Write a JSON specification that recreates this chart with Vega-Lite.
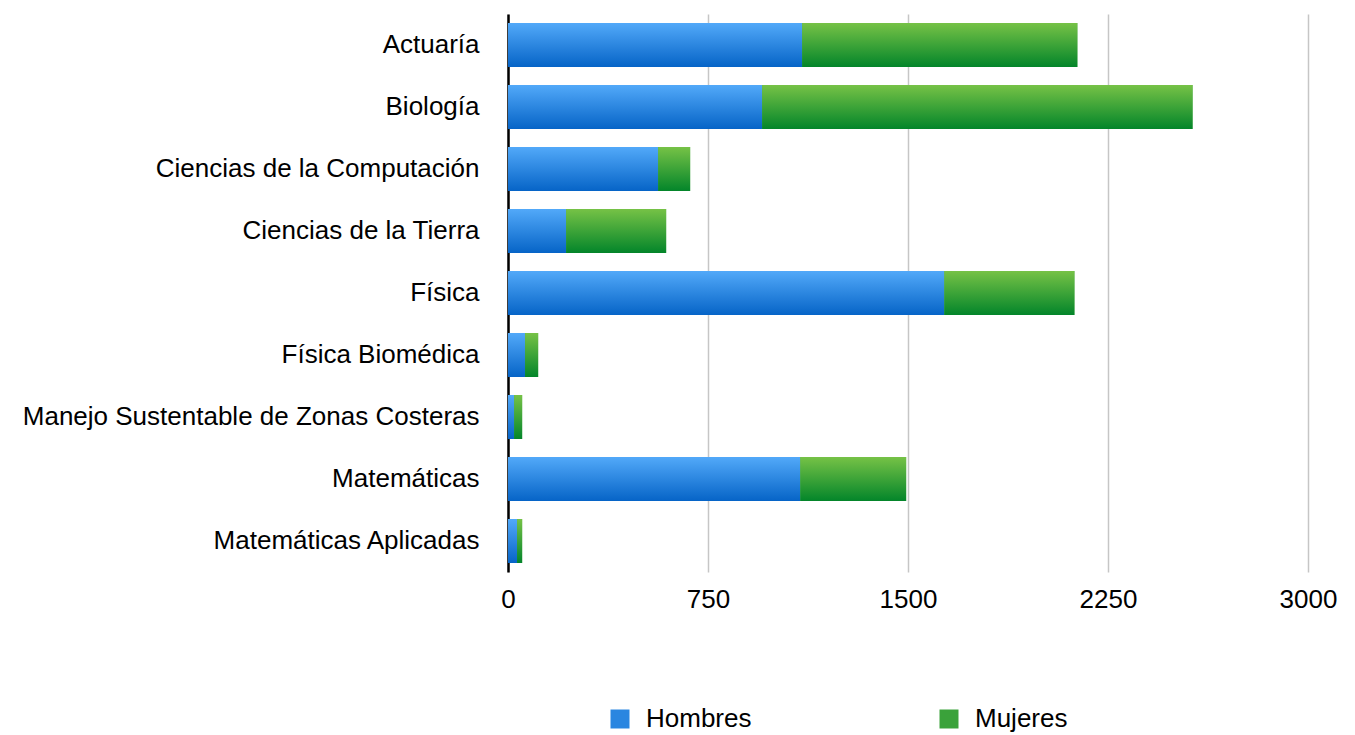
{
  "$schema": "https://vega.github.io/schema/vega-lite/v6.json",
  "width": 800,
  "height": 558,
  "padding": {"left": 22, "top": 14, "right": 10, "bottom": 5},
  "background": "white",
  "config": {
    "view": {"stroke": null},
    "font": "Liberation Sans",
    "axis": {"labelFont": "Liberation Sans", "labelFontSize": 26, "labelColor": "#000000", "title": null},
    "legend": {"labelFont": "Liberation Sans", "labelFontSize": 26, "labelColor": "#000000"}
  },
  "data": {
    "values": [
      {"carrera": "Actuaría", "sexo": "Hombres", "n": 1103},
      {"carrera": "Actuaría", "sexo": "Mujeres", "n": 1032},
      {"carrera": "Biología", "sexo": "Hombres", "n": 953},
      {"carrera": "Biología", "sexo": "Mujeres", "n": 1614},
      {"carrera": "Ciencias de la Computación", "sexo": "Hombres", "n": 563},
      {"carrera": "Ciencias de la Computación", "sexo": "Mujeres", "n": 120},
      {"carrera": "Ciencias de la Tierra", "sexo": "Hombres", "n": 218},
      {"carrera": "Ciencias de la Tierra", "sexo": "Mujeres", "n": 375},
      {"carrera": "Física", "sexo": "Hombres", "n": 1636},
      {"carrera": "Física", "sexo": "Mujeres", "n": 488},
      {"carrera": "Física Biomédica", "sexo": "Hombres", "n": 64},
      {"carrera": "Física Biomédica", "sexo": "Mujeres", "n": 49},
      {"carrera": "Manejo Sustentable de Zonas Costeras", "sexo": "Hombres", "n": 23},
      {"carrera": "Manejo Sustentable de Zonas Costeras", "sexo": "Mujeres", "n": 30},
      {"carrera": "Matemáticas", "sexo": "Hombres", "n": 1096},
      {"carrera": "Matemáticas", "sexo": "Mujeres", "n": 397},
      {"carrera": "Matemáticas Aplicadas", "sexo": "Hombres", "n": 34},
      {"carrera": "Matemáticas Aplicadas", "sexo": "Mujeres", "n": 19}
    ]
  },
  "transform": [
    {"stack": "n", "groupby": ["carrera"], "sort": [{"field": "sexo", "order": "ascending"}], "as": ["v0", "v1"]}
  ],
  "encoding": {
    "y": {
      "field": "carrera",
      "type": "nominal",
      "sort": null,
      "scale": {"paddingInner": 0.29, "paddingOuter": 0.145},
      "axis": {"ticks": false, "labelPadding": 29, "domainColor": "#000000", "domainWidth": 2.5, "grid": false, "labelLimit": 0}
    },
    "x": {
      "field": "v0",
      "type": "quantitative",
      "scale": {"domain": [0, 3000], "nice": false},
      "axis": {"values": [0, 750, 1500, 2250, 3000], "ticks": false, "domain": false, "grid": true, "gridColor": "#c6c6c6", "gridWidth": 1.5, "labelPadding": 14, "labelFlush": false, "format": "d"}
    },
    "x2": {"field": "v1"}
  },
  "layer": [
    {
      "mark": {"type": "bar"},
      "encoding": {
        "color": {
          "field": "sexo",
          "type": "nominal",
          "scale": {"domain": ["Hombres", "Mujeres"], "range": ["#2a86e0", "#3aa23a"]},
          "legend": {
            "orient": "none",
            "legendX": 99,
            "legendY": 692,
            "direction": "horizontal",
            "title": null,
            "symbolType": "square",
            "symbolSize": 361,
            "symbolStrokeWidth": 0,
            "labelOffset": 13,
            "columnPadding": 184
          }
        }
      }
    },
    {
      "transform": [{"filter": "datum.sexo === 'Hombres'"}],
      "mark": {
        "type": "bar",
        "color": {"gradient": "linear", "x1": 0, "y1": 0, "x2": 0, "y2": 1, "stops": [{"offset": 0, "color": "#52a9f9"}, {"offset": 1, "color": "#0664c7"}]}
      },
      "encoding": {}
    },
    {
      "transform": [{"filter": "datum.sexo === 'Mujeres'"}],
      "mark": {
        "type": "bar",
        "color": {"gradient": "linear", "x1": 0, "y1": 0, "x2": 0, "y2": 1, "stops": [{"offset": 0, "color": "#76c246"}, {"offset": 1, "color": "#03852a"}]}
      },
      "encoding": {}
    }
  ]
}
